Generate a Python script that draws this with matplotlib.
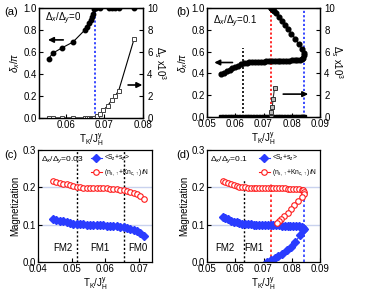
import numpy as np
import matplotlib
matplotlib.use("Agg")
import matplotlib.pyplot as plt

plt.rcParams['font.family'] = ['Liberation Sans', 'DejaVu Sans']
plt.rcParams['mathtext.fontset'] = 'custom'
plt.rcParams['mathtext.rm'] = 'Liberation Sans'
plt.rcParams['mathtext.it'] = 'Liberation Sans:italic'
plt.rcParams['font.size'] = 7

# ---- panel (a) data ----
a_x = [0.0555, 0.0566, 0.0591, 0.0618, 0.0649, 0.0655, 0.0660, 0.0664, 0.0667,
       0.0670, 0.0674, 0.0678, 0.0688, 0.0711, 0.0719, 0.0728, 0.0737, 0.0777]
a_delta = [0.54, 0.59, 0.64, 0.69, 0.80, 0.83, 0.86, 0.89, 0.92,
           0.95, 0.99, 1.0, 1.0, 1.0, 1.0, 1.0, 1.0, 1.0]
a_sx = [0.0555, 0.0566, 0.0591, 0.0618, 0.0649, 0.0655, 0.0660, 0.0664, 0.0667,
        0.0670, 0.0674, 0.0680, 0.0688, 0.0697, 0.0708, 0.0720, 0.0728, 0.0737, 0.0777]
a_s = [0, 0, 0, 0, 0, 0, 0, 0, 0, 0, 0, 0.15, 0.36, 0.7, 1.1, 1.67, 2.0, 2.5, 7.2]
a_line = 0.0675

# ---- panel (b) data ----
b_x = [0.0551, 0.0560, 0.0570, 0.0580, 0.0590, 0.0600, 0.0610, 0.0620, 0.0630,
       0.0640, 0.0650, 0.0660, 0.0670, 0.0680, 0.0690, 0.0700, 0.0710, 0.0720,
       0.0730, 0.0740, 0.0750, 0.0760, 0.0770, 0.0780, 0.0790, 0.0800, 0.0810,
       0.0820, 0.0830, 0.0835, 0.0840, 0.0843,
       0.0843, 0.0838, 0.0825, 0.0812, 0.0799, 0.0787, 0.0776, 0.0765, 0.0755,
       0.0745, 0.0738, 0.0733, 0.0729, 0.0727, 0.0725]
b_delta = [0.39, 0.405, 0.42, 0.435, 0.448, 0.46, 0.472, 0.485, 0.495,
           0.500, 0.503, 0.505, 0.506, 0.507, 0.508, 0.509, 0.510, 0.511,
           0.512, 0.513, 0.514, 0.515, 0.516, 0.517, 0.518, 0.519, 0.520,
           0.522, 0.525, 0.530, 0.545, 0.570,
           0.585, 0.620, 0.670, 0.720, 0.765, 0.810, 0.845, 0.880, 0.915,
           0.950, 0.970, 0.985, 0.995, 1.0, 1.0]
b_sx = [0.0551, 0.0560, 0.0570, 0.0580, 0.0590, 0.0600, 0.0610, 0.0620, 0.0630,
        0.0640, 0.0650, 0.0660, 0.0670, 0.0680, 0.0690, 0.0700, 0.0710, 0.0720,
        0.0730, 0.0740, 0.0750, 0.0760, 0.0770, 0.0780, 0.0790, 0.0800, 0.0810,
        0.0820, 0.0830, 0.0835, 0.0840, 0.0843]
b_s = [0] * 32
b_rx = [0.0725, 0.0727, 0.0731, 0.0734, 0.0739]
b_rs = [0.0, 0.43, 0.92, 1.68, 2.66]
b_black, b_red, b_blue = 0.0629, 0.0726, 0.0844

# ---- panel (c) data ----
c_x = [0.0445, 0.0455, 0.0465, 0.0475, 0.0485, 0.0495, 0.0505, 0.0515, 0.0525,
       0.0535, 0.0545, 0.0555, 0.0565, 0.0575, 0.0585, 0.0595, 0.0605, 0.0615,
       0.0625, 0.0635, 0.0645, 0.0655, 0.0665, 0.0675, 0.0685, 0.0695, 0.0705, 0.0715]
c_red = [0.216, 0.214, 0.212, 0.210, 0.208, 0.205, 0.203, 0.201, 0.200,
         0.1995, 0.199, 0.199, 0.1985, 0.198, 0.198, 0.1975, 0.197, 0.1965,
         0.196, 0.195, 0.194, 0.193, 0.191, 0.188, 0.185, 0.181, 0.176, 0.169]
c_blue = [0.115, 0.113, 0.111, 0.109, 0.107, 0.105, 0.103, 0.102, 0.101,
          0.1005, 0.100, 0.0995, 0.099, 0.099, 0.0985, 0.098, 0.0975, 0.097,
          0.0965, 0.096, 0.095, 0.094, 0.092, 0.089, 0.086, 0.082, 0.077, 0.070]
c_lines = [0.0517, 0.0655]

# ---- panel (d) data ----
d_x = [0.0555, 0.0565, 0.0575, 0.0585, 0.0595, 0.0605, 0.0615, 0.0625, 0.0635,
       0.0645, 0.0655, 0.0665, 0.0675, 0.0685, 0.0695, 0.0705, 0.0715, 0.0725,
       0.0735, 0.0745, 0.0755, 0.0765, 0.0775, 0.0785, 0.0795, 0.0805, 0.0815,
       0.0825, 0.0835, 0.0840, 0.0843]
d_red = [0.218, 0.215, 0.212, 0.209, 0.206, 0.204, 0.202, 0.201, 0.200,
         0.1995, 0.199, 0.199, 0.1985, 0.198, 0.198, 0.198, 0.198, 0.1975,
         0.1975, 0.197, 0.197, 0.197, 0.197, 0.1965, 0.1965, 0.196, 0.196,
         0.195, 0.194, 0.192, 0.188]
d_blue = [0.120, 0.117, 0.114, 0.111, 0.108, 0.106, 0.104, 0.103, 0.102,
          0.101, 0.1005, 0.100, 0.0995, 0.099, 0.099, 0.099, 0.0985, 0.0985,
          0.098, 0.098, 0.098, 0.0975, 0.0975, 0.097, 0.097, 0.0965, 0.096,
          0.0955, 0.094, 0.092, 0.089]
d_red_rx = [0.0843, 0.0835, 0.0822, 0.0809, 0.0797, 0.0785, 0.0773, 0.0761, 0.0754, 0.0747]
d_red_r = [0.182, 0.173, 0.164, 0.153, 0.142, 0.131, 0.123, 0.116, 0.110, 0.104]
d_blue_rx = [0.0841, 0.0829, 0.0812, 0.0797, 0.0782, 0.0765, 0.0753, 0.0741, 0.0727, 0.0712]
d_blue_r = [0.085, 0.071, 0.053, 0.041, 0.031, 0.022, 0.017, 0.012, 0.005, 0.0]
d_black, d_red_line, d_blue_line = 0.0630, 0.0727, 0.0844

BLUE = '#2a3cff'
RED = '#ff1a1a'
xlab = r'T$_\mathrm{K}$/J$_\mathrm{H}^\mathrm{y}$'
leg1 = r'<S$_\mathrm{z}$+s$_\mathrm{z}$>'
leg2 = r'(n$_\mathrm{s,\uparrow}$+Kn$_\mathrm{c,\uparrow}$)/N'

fig = plt.figure(figsize=(3.74, 3.02), dpi=100)
W, H = 374.0, 302.0


def box(l, r, t, b):
    return [l / W, 1 - b / H, (r - l) / W, (b - t) / H]


def style(ax):
    ax.tick_params(direction='in', length=3, width=0.8, labelsize=7, pad=1.5)
    for s in ax.spines.values():
        s.set_linewidth(0.9)


# (a)
ax = fig.add_axes(box(39, 143, 8, 118))
ax2 = ax.twinx()
ax.axvline(a_line, color=BLUE, ls=(0, (1.2, 1.2)), lw=1.3, zorder=1)
ax.plot(a_x, a_delta, 'o-', color='k', ms=3.2, lw=0.8, zorder=3)
ax2.plot(a_sx, a_s, 's-', color='k', mfc='white', mec='#444444', ms=3, mew=0.7, lw=0.8)
ax.set_xlim(0.053, 0.08)
ax.set_ylim(0, 1)
ax2.set_ylim(0, 10)
ax.set_xticks([0.06, 0.07, 0.08])
ax.set_xticklabels(['0.06', '0.07', '0.08'])
ax.set_yticks([0, 0.2, 0.4, 0.6, 0.8, 1.0])
ax.set_yticklabels(['0.0', '0.2', '0.4', '0.6', '0.8', '1.0'])
ax2.set_yticks([0, 2, 4, 6, 8, 10])
ax.set_xlabel(xlab, labelpad=1)
ax.set_ylabel(r'$\delta_x$/$\pi$', labelpad=1)
ax2.set_ylabel(r'$\Delta_s$ x10$^3$', rotation=270, labelpad=7)
style(ax); style(ax2)
ax2.tick_params(axis='y', pad=3)
ax.text(0.06, 0.9, r'$\Delta_x$/$\Delta_y$=0', transform=ax.transAxes, fontsize=7, va='center')
ax.annotate('', xy=(0.06, 0.71), xytext=(0.26, 0.71), xycoords='axes fraction',
            arrowprops=dict(arrowstyle='-|>', color='k', lw=1.2, mutation_scale=8))
ax.annotate('', xy=(1.02, 0.30), xytext=(0.83, 0.30), xycoords='axes fraction',
            arrowprops=dict(arrowstyle='-|>', color='k', lw=1.2, mutation_scale=8))
fig.text(4 / W, 1 - 12 / H, '(a)', fontsize=8, va='center')

# (b)
ax = fig.add_axes(box(207, 320, 8, 117))
ax2 = ax.twinx()
ax.plot([b_black, b_black], [0, 0.63], color='k', ls=(0, (1.2, 1.2)), lw=1.2, zorder=1)
ax.axvline(b_red, color=RED, ls=(0, (1.2, 1.2)), lw=1.3, zorder=1)
ax.axvline(b_blue, color=BLUE, ls=(0, (1.2, 1.2)), lw=1.3, zorder=1)
ax.plot(b_x, b_delta, 'o-', color='k', ms=3.4, lw=0.8, zorder=3)
ax2.plot(b_sx, b_s, 's-', color='k', ms=3, lw=0.8)
ax2.plot(b_rx, b_rs, 's-', color='#333333', mfc='#bbbbbb', mec='#333333', ms=3, mew=0.7, lw=0.8)
ax.set_xlim(0.05, 0.09)
ax.set_ylim(0, 1)
ax2.set_ylim(0, 10)
ax.set_xticks([0.05, 0.06, 0.07, 0.08, 0.09])
ax.set_xticklabels(['0.05', '0.06', '0.07', '0.08', '0.09'])
ax.set_yticks([0, 0.2, 0.4, 0.6, 0.8, 1.0])
ax.set_yticklabels(['0.0', '0.2', '0.4', '0.6', '0.8', '1.0'])
ax2.set_yticks([0, 2, 4, 6, 8, 10])
ax.set_xlabel(xlab, labelpad=1)
ax.set_ylabel(r'$\delta_x$/$\pi$', labelpad=1)
ax2.set_ylabel(r'$\Delta_s$ x10$^3$', rotation=270, labelpad=7)
style(ax); style(ax2)
ax2.tick_params(axis='y', pad=3)
ax.text(0.05, 0.87, r'$\Delta_x$/$\Delta_y$=0.1', transform=ax.transAxes, fontsize=7, va='center')
ax.annotate('', xy=(0.04, 0.50), xytext=(0.25, 0.50), xycoords='axes fraction',
            arrowprops=dict(arrowstyle='-|>', color='k', lw=1.2, mutation_scale=8))
ax.annotate('', xy=(0.92, 0.21), xytext=(0.65, 0.21), xycoords='axes fraction',
            arrowprops=dict(arrowstyle='-|>', color='k', lw=1.2, mutation_scale=8))
fig.text(176 / W, 1 - 12 / H, '(b)', fontsize=8, va='center')

# (c)
ax = fig.add_axes(box(38, 152, 150, 262))
for g in [0.1, 0.2]:
    ax.axhline(g, color='#c9d2ee', lw=1.0, zorder=0)
for v in c_lines:
    ax.axvline(v, color='k', ls=(0, (1.5, 1.5)), lw=1.0, zorder=1)
ax.plot(c_x, c_blue, 'D-', color=BLUE, ms=4, lw=0.8, label=leg1)
ax.plot(c_x, c_red, 'o-', color=RED, mfc='white', ms=4, mew=0.8, lw=0.8, label=leg2)
ax.set_xlim(0.04, 0.074)
ax.set_ylim(0, 0.3)
ax.set_xticks([0.04, 0.05, 0.06, 0.07])
ax.set_xticklabels(['0.04', '0.05', '0.06', '0.07'])
ax.set_yticks([0, 0.1, 0.2, 0.3])
ax.set_yticklabels(['0.0', '0.1', '0.2', '0.3'])
ax.set_xlabel(xlab, labelpad=1)
ax.set_ylabel('Magnetization', labelpad=2)
style(ax)
ax.text(0.025, 0.915, r'$\Delta_x$/$\Delta_y$=0.03', transform=ax.transAxes, fontsize=6, va='center')
ax.text(0.0475, 0.03, 'FM2', ha='center', fontsize=7)
ax.text(0.0585, 0.03, 'FM1', ha='center', fontsize=7)
ax.text(0.0698, 0.03, 'FM0', ha='center', fontsize=7)
ax.legend(loc='upper right', fontsize=4.8, frameon=False, handlelength=1.7,
          borderaxespad=0.1, labelspacing=0.6, handletextpad=0.25, borderpad=0.35)
fig.text(4 / W, 1 - 155 / H, '(c)', fontsize=8, va='center')

# (d)
ax = fig.add_axes(box(207, 320, 150, 262))
for g in [0.1, 0.2]:
    ax.axhline(g, color='#c9d2ee', lw=1.0, zorder=0)
ax.plot([d_black, d_black], [0, 0.22], color='k', ls=(0, (1.5, 1.5)), lw=1.0, zorder=1)
ax.plot([d_red_line, d_red_line], [0, 0.21], color=RED, ls=(0, (1.5, 1.5)), lw=1.2, zorder=1)
ax.plot([d_blue_line, d_blue_line], [0, 0.2], color=BLUE, ls=(0, (1.5, 1.5)), lw=1.2, zorder=1)
ax.plot(d_x + d_blue_rx, d_blue + d_blue_r, 'D-', color=BLUE, ms=4, lw=0.8, label=leg1)
ax.plot(d_x + d_red_rx, d_red + d_red_r, 'o-', color=RED, mfc='white', ms=4, mew=0.8, lw=0.8, label=leg2)
ax.set_xlim(0.05, 0.09)
ax.set_ylim(0, 0.3)
ax.set_xticks([0.05, 0.06, 0.07, 0.08, 0.09])
ax.set_xticklabels(['0.05', '0.06', '0.07', '0.08', '0.09'])
ax.set_yticks([0, 0.1, 0.2, 0.3])
ax.set_yticklabels(['0.0', '0.1', '0.2', '0.3'])
ax.set_xlabel(xlab, labelpad=1)
ax.set_ylabel('Magnetization', labelpad=2)
style(ax)
ax.text(0.025, 0.915, r'$\Delta_x$/$\Delta_y$=0.1', transform=ax.transAxes, fontsize=6, va='center')
ax.text(0.0565, 0.03, 'FM2', ha='center', fontsize=7)
ax.text(0.0665, 0.03, 'FM1', ha='center', fontsize=7)
ax.legend(loc='upper right', fontsize=4.8, frameon=False, handlelength=1.7,
          borderaxespad=0.1, labelspacing=0.6, handletextpad=0.25, borderpad=0.35)
fig.text(176 / W, 1 - 155 / H, '(d)', fontsize=8, va='center')

fig.savefig('out.png', dpi=100)
